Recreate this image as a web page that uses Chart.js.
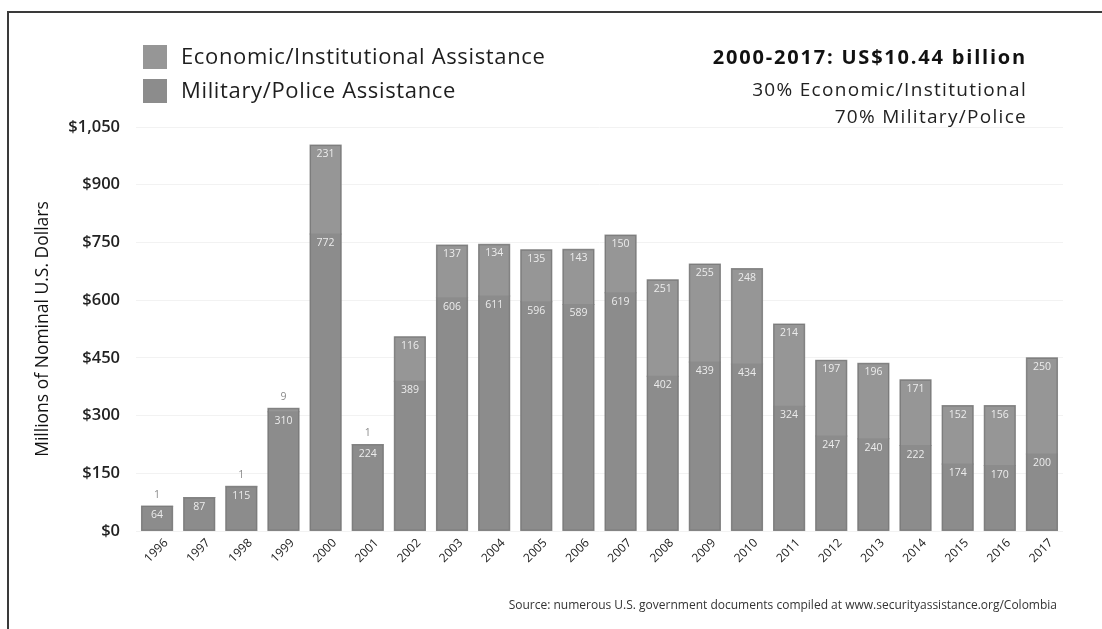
<!DOCTYPE html>
<html><head><meta charset="utf-8">
<script src="https://cdn.jsdelivr.net/npm/chart.js@4/dist/chart.umd.min.js"></script>
<style>
html,body{margin:0;padding:0;background:#fff;}
#wrap{position:relative;width:1102px;height:629px;overflow:hidden;}
#frame{position:absolute;left:7px;top:11px;width:1200px;height:700px;border-top:2px solid #3a3a3a;border-left:2px solid #3a3a3a;pointer-events:none;}
canvas{position:absolute;left:0;top:0;}
</style></head><body>
<div id="wrap"><canvas id="c" width="1102" height="629"></canvas><div id="frame"></div></div>
<script>
const years = ['1996','1997','1998','1999','2000','2001','2002','2003','2004','2005','2006','2007','2008','2009','2010','2011','2012','2013','2014','2015','2016','2017'];
const military = [64,87,115,310,772,224,389,606,611,596,589,619,402,439,434,324,247,240,222,174,170,200];
const economic = [1,0,1,9,231,1,116,137,134,135,143,150,251,255,248,214,197,196,171,152,156,250];
const yTicks = [0,150,300,450,600,750,900,1050];
const seriesNames = ['Economic/Institutional Assistance','Military/Police Assistance'];
const summaryLines = ['2000-2017: US$10.44 billion','30% Economic/Institutional','70% Military/Police'];
const yTitle = 'Millions of Nominal U.S. Dollars';
const sourceText = 'Source: numerous U.S. government documents compiled at www.securityassistance.org/Colombia';

const COL_ECO = '#969696', COL_MIL = '#8c8c8c', COL_EDGE = '#7c7c7c';

const outlinePlugin = {
  id: 'outline',
  afterDatasetsDraw(chart) {
    const ctx = chart.ctx;
    const mil = chart.getDatasetMeta(0).data;
    const eco = chart.getDatasetMeta(1).data;
    ctx.save();
    ctx.strokeStyle = COL_EDGE;
    ctx.lineWidth = 1;
    mil.forEach((m, i) => {
      const e = eco[i];
      const top = Math.min(m.y, e.y);
      const w = m.width;
      ctx.strokeRect(m.x - w / 2 + 0.5, top + 0.5, w - 1, m.base - top - 1);
    });
    ctx.restore();
  }
};

const labelPlugin = {
  id: 'labels',
  afterDatasetsDraw(chart) {
    const ctx = chart.ctx;
    chart.data.datasets.forEach((ds, di) => {
      const meta = chart.getDatasetMeta(di);
      meta.data.forEach((bar, i) => {
        const v = ds.data[i];
        if (!v) return;
        ctx.save();
        ctx.font = '10.5px "Open Sans"';
        ctx.textAlign = 'center';
        ctx.textBaseline = 'middle';
        if (di === 1 && v < 20) {
          ctx.fillStyle = '#8a8a8a';
          ctx.fillText(String(v), bar.x, bar.y - 11);
        } else {
          ctx.fillStyle = '#ececec';
          ctx.fillText(String(v), bar.x, bar.y + 9);
        }
        ctx.restore();
      });
    });
  }
};

const decorPlugin = {
  id: 'decor',
  afterDraw(chart) {
    const ctx = chart.ctx;
    ctx.save();
    const cols = [COL_ECO, COL_MIL];
    const rows = [57, 91];
    seriesNames.forEach((n, k) => {
      ctx.fillStyle = cols[k];
      ctx.fillRect(143, rows[k] - 12, 24, 24);
      ctx.fillStyle = '#1e1e1e';
      ctx.font = '22px "Open Sans"';
      ctx.letterSpacing = '0.65px';
      ctx.textAlign = 'left';
      ctx.textBaseline = 'middle';
      ctx.fillText(n, 181, rows[k] + 1);
    });
    ctx.textAlign = 'right';
    ctx.textBaseline = 'middle';
    ctx.fillStyle = '#111';
    ctx.font = 'bold 20px "Open Sans"';
    ctx.letterSpacing = '1.8px';
    ctx.fillText(summaryLines[0], 1027, 58);
    ctx.fillStyle = '#222';
    ctx.font = '19px "Open Sans"';
    ctx.letterSpacing = '1.3px';
    ctx.fillText(summaryLines[1], 1027, 91);
    ctx.fillText(summaryLines[2], 1027, 118);
    ctx.letterSpacing = '0px';
    ctx.font = '12px "Open Sans"';
    ctx.fillStyle = '#333';
    ctx.fillText(sourceText, 1057, 606);
    ctx.restore();
  }
};

new Chart(document.getElementById('c'), {
  type: 'bar',
  data: {
    labels: years,
    datasets: [
      { label: seriesNames[1], data: military, backgroundColor: COL_MIL, borderWidth: 0, inflateAmount: 0.5,
        barPercentage: 0.74, categoryPercentage: 1 },
      { label: seriesNames[0], data: economic, backgroundColor: COL_ECO, borderWidth: 0, inflateAmount: 0.5,
        barPercentage: 0.74, categoryPercentage: 1 }
    ]
  },
  options: {
    responsive: false,
    animation: false,
    layout: { padding: { left: 33, top: 127, right: 39, bottom: 0 } },
    plugins: { legend: { display: false }, tooltip: { enabled: false } },
    scales: {
      x: {
        stacked: true,
        grid: { display: false, drawTicks: false },
        border: { display: false },
        ticks: { color: '#222', font: { family: 'Open Sans', size: 12 }, minRotation: 45, maxRotation: 45, padding: 5, labelOffset: 9 },
        afterFit(s) { s.height = 98; }
      },
      y: {
        stacked: true,
        min: 0, max: 1050,
        afterBuildTicks(s) { s.ticks = yTicks.map(v => ({ value: v })); },
        grid: { color: '#f2f2f2', drawTicks: false },
        border: { display: false },
        ticks: { color: '#222', font: { family: 'Open Sans', size: 16.5, weight: '600' }, padding: 16,
          callback: v => '$' + v.toLocaleString('en-US') },
        title: { display: true, text: yTitle, color: '#111', font: { family: 'Open Sans', size: 17.5 }, padding: 0 },
        afterFit(s) { s.width = 103; }
      }
    }
  },
  plugins: [outlinePlugin, labelPlugin, decorPlugin]
});
</script>
</body></html>
